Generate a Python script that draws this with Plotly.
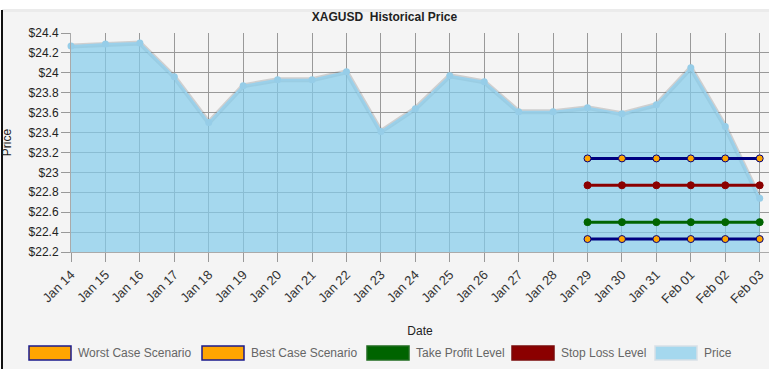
import plotly.graph_objects as go

dates = ["Jan 14", "Jan 15", "Jan 16", "Jan 17", "Jan 18", "Jan 19", "Jan 20",
         "Jan 21", "Jan 22", "Jan 23", "Jan 24", "Jan 25", "Jan 26", "Jan 27",
         "Jan 28", "Jan 29", "Jan 30", "Jan 31", "Feb 01", "Feb 02", "Feb 03"]
price = [24.27, 24.29, 24.30, 23.96, 23.50, 23.87, 23.93, 23.93, 24.01, 23.41,
         23.64, 23.97, 23.91, 23.61, 23.61, 23.65, 23.59, 23.68, 24.05, 23.46, 22.74]

level_dates = ["Jan 29", "Jan 30", "Jan 31", "Feb 01", "Feb 02", "Feb 03"]
worst_case = [23.14] * 6
best_case = [22.33] * 6
take_profit = [22.50] * 6
stop_loss = [22.87] * 6

y_ticks = [22.2, 22.4, 22.6, 22.8, 23.0, 23.2, 23.4, 23.6, 23.8, 24.0, 24.2, 24.4]
y_tick_text = ["$22.2", "$22.4", "$22.6", "$22.8", "$23", "$23.2", "$23.4",
               "$23.6", "$23.8", "$24", "$24.2", "$24.4"]

legend_names = ["Worst Case Scenario", "Best Case Scenario", "Take Profit Level",
                "Stop Loss Level", "Price"]

FONT = "Liberation Sans, Arial, sans-serif"

fig = go.Figure()

# soft shadow under the price line
fig.add_trace(go.Scatter(
    x=dates, y=price, mode="lines",
    line=dict(color="rgba(110,110,110,0.28)", width=5),
    hoverinfo="skip", showlegend=False))

# Price area
fig.add_trace(go.Scatter(
    x=dates, y=price, mode="lines+markers", fill="tozeroy",
    fillcolor="rgba(131,204,235,0.7)",
    line=dict(color="rgb(155,208,234)", width=2),
    marker=dict(color="rgb(150,205,232)", size=7),
    cliponaxis=False, showlegend=False, name="Price"))

def level(y, lc, mc, name):
    fig.add_trace(go.Scatter(
        x=level_dates, y=y, mode="lines+markers",
        line=dict(color=lc, width=3),
        marker=dict(color=mc, size=7, line=dict(color=lc, width=1)),
        cliponaxis=False, showlegend=False, name=name))

level(worst_case, "#000080", "#FFA500", legend_names[0])
level(best_case, "#000080", "#FFA500", legend_names[1])
level(take_profit, "#006400", "#006400", legend_names[2])
level(stop_loss, "#8B0000", "#8B0000", legend_names[3])

W, H = 769, 369
ml, mr, mt, mb = 71, 0, 33, 117
pw, ph = W - ml - mr, H - mt - mb

def px_x(p):
    return (p - ml) / pw

def px_y(p):
    return (H - mb - p) / ph

shapes = [
    dict(type="rect", xref="paper", yref="paper", layer="below",
         x0=px_x(2), x1=px_x(W + 5), y0=px_y(H + 5), y1=px_y(9),
         fillcolor="#f4f4f4", line=dict(width=0)),
    dict(type="rect", xref="paper", yref="paper", layer="below",
         x0=px_x(2), x1=px_x(W + 5), y0=px_y(12), y1=px_y(9),
         fillcolor="#ebebeb", line=dict(width=0)),
    dict(type="line", xref="paper", yref="paper", layer="above",
         x0=px_x(2), x1=px_x(2), y0=px_y(H + 5), y1=px_y(10),
         line=dict(color="#111", width=2)),
]
annotations = []

# manual box legend
legend_box_x = [29, 202, 367, 512, 655]
legend_fill = ["#FFA500", "#FFA500", "#006400", "#8B0000", "rgb(165,216,238)"]
legend_edge = ["#1a1a8c", "#1a1a8c", "#1f6b1f", "#7a0a0a", "rgb(215,224,230)"]
box_w, box_top, box_bot = 42, 346, 360
for name, bx, fc, ec in zip(legend_names, legend_box_x, legend_fill, legend_edge):
    shapes.append(dict(type="rect", xref="paper", yref="paper", layer="above",
                       x0=px_x(bx), x1=px_x(bx + box_w),
                       y0=px_y(box_bot), y1=px_y(box_top),
                       fillcolor=fc, line=dict(color=ec, width=1.5)))
    annotations.append(dict(text=name, xref="paper", yref="paper",
                            x=px_x(bx + box_w + 5), y=px_y((box_top + box_bot) / 2),
                            xanchor="left", yanchor="middle", showarrow=False,
                            font=dict(family=FONT, size=12, color="#666")))

fig.update_layout(
    width=W, height=H,
    margin=dict(l=ml, r=mr, t=mt, b=mb, pad=0),
    paper_bgcolor="white", plot_bgcolor="#f4f4f4",
    font=dict(family=FONT, size=12, color="#333"),
    showlegend=False,
    title=dict(text="<b>XAGUSD\u00a0 Historical Price</b>", x=0.5, xref="container",
               y=1 - 16.5 / H, yref="container", yanchor="middle", xanchor="center",
               font=dict(family=FONT, size=12, color="#222")),
    xaxis=dict(type="category", range=[0, 20.27], tickangle=-45,
               showgrid=True, gridcolor="#999", gridwidth=1,
               ticks="outside", ticklen=9, tickcolor="#999",
               showline=True, linecolor="#aaa", linewidth=1,
               tickfont=dict(size=13, color="#333"),
               title=dict(text="Date", standoff=21,
                          font=dict(family=FONT, size=12, color="#222"))),
    yaxis=dict(range=[22.2, 24.4], tickvals=y_ticks, ticktext=y_tick_text,
               showgrid=True, gridcolor="#999", gridwidth=1,
               ticks="outside", ticklen=9, tickcolor="#999",
               showline=True, linecolor="#aaa", linewidth=1,
               zeroline=False,
               tickfont=dict(size=12, color="#222"),
               title=dict(text="Price", standoff=15,
                          font=dict(family=FONT, size=12, color="#222"))),
    shapes=shapes,
    annotations=annotations,
)

fig.write_html("out.html", config={"displayModeBar": False},
               post_script="document.body.style.margin='0';document.body.style.overflow='hidden';")
